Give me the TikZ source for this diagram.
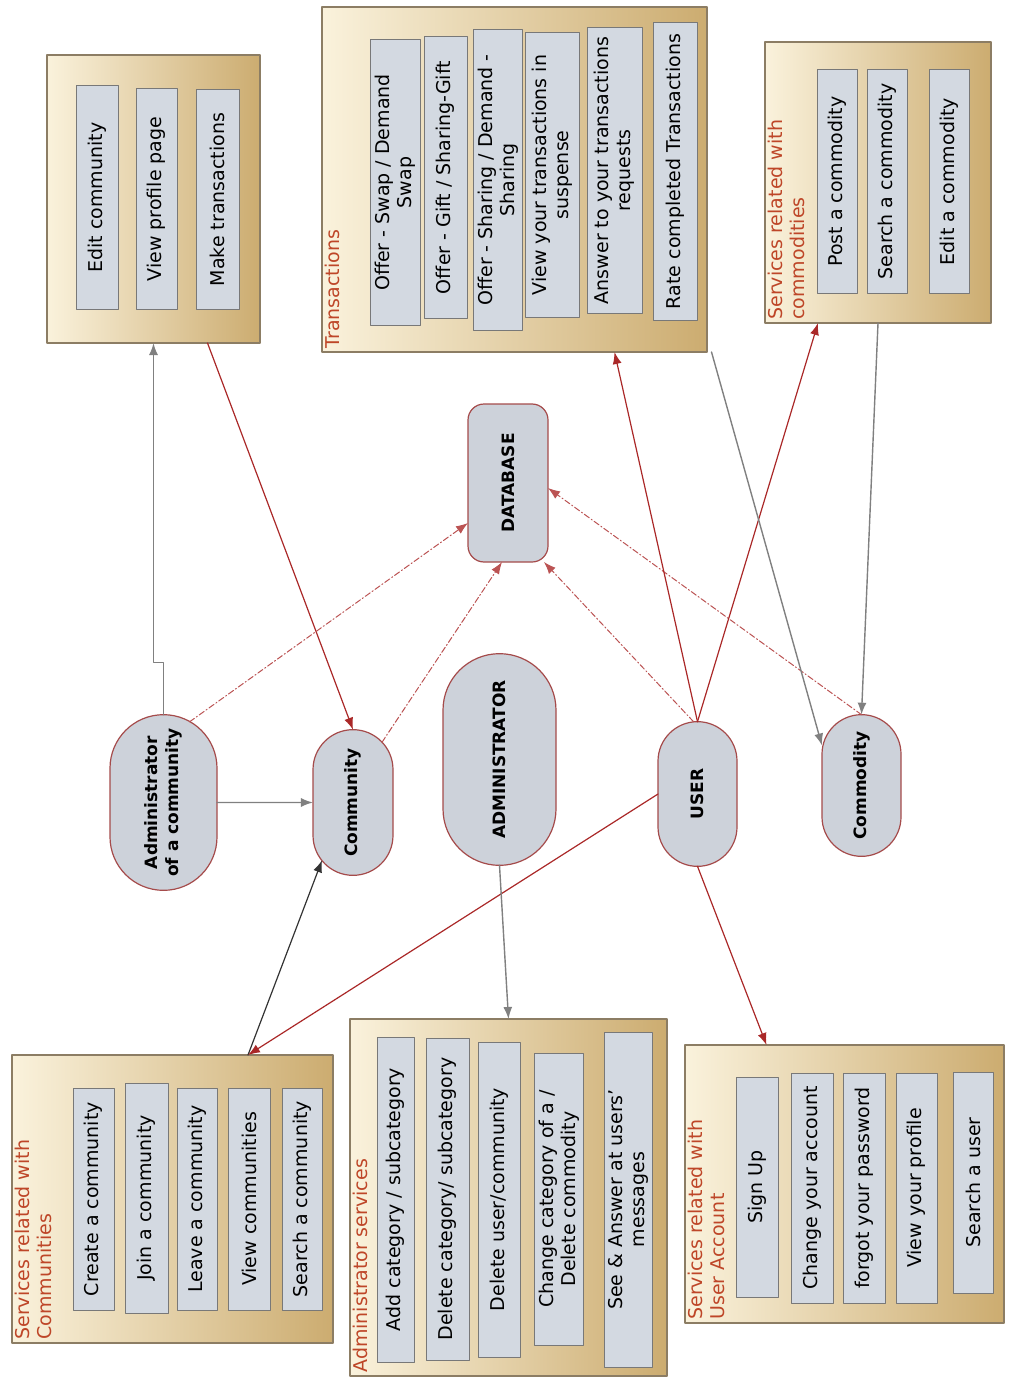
\documentclass[tikz,border=0pt]{standalone}
\usepackage{fontspec}
\setmainfont{DejaVu Sans}
\usetikzlibrary{arrows.meta,shapes.misc}

\begin{document}
\begin{tikzpicture}[
    x=0.5pt, y=-0.5pt,
    line cap=round,
    line join=round,
    every node/.style={font=\fontsize{9.5}{11}\selectfont},
    svcgroup/.style={draw=groupedge, line width=0.6pt, left color=grouplight,
        right color=groupdark, inner sep=0pt, outer sep=0pt},
    svcitem/.style={draw=itemedge, fill=itemfill, line width=0.5pt, rotate=90,
        align=center, inner sep=2pt, outer sep=0pt},
    grouptitle/.style={text=titlered, rotate=90, align=left, inner sep=1.5pt,
        anchor=north west},
    actor/.style={rounded rectangle, draw=actoredge, fill=actorfill,
        line width=0.6pt, rotate=90, align=center, outer sep=0pt,
        font=\fontsize{8.5}{10.5}\selectfont\bfseries},
    store/.style={rectangle, rounded corners=8pt, draw=actoredge, fill=actorfill,
        line width=0.6pt, rotate=90, outer sep=0pt,
        font=\fontsize{8.5}{10.5}\selectfont\bfseries},
    flowgray/.style={draw=linegray, line width=0.7pt,
        -{Latex[length=6pt,width=4.5pt]}},
    flowred/.style={draw=linered, line width=0.6pt,
        -{Latex[length=6pt,width=4.5pt]}},
    flowdb/.style={draw=linered!80, line width=0.5pt,
        dash pattern=on 3pt off 1.2pt on 0.6pt off 1.2pt,
        -{Latex[length=6pt,width=4.5pt]}},
    flowdark/.style={draw=black!80, line width=0.6pt,
        -{Latex[length=6pt,width=4.5pt]}}
]

\definecolor{grouplight}{RGB}{250,242,220}
\definecolor{groupdark}{RGB}{204,172,112}
\definecolor{groupedge}{RGB}{140,125,100}
\definecolor{itemfill}{RGB}{211,217,225}
\definecolor{itemedge}{RGB}{120,120,120}
\definecolor{actorfill}{RGB}{205,210,218}
\definecolor{actoredge}{RGB}{165,75,75}
\definecolor{titlered}{RGB}{190,70,40}
\definecolor{linered}{RGB}{170,40,40}
\definecolor{linegray}{RGB}{128,128,128}

\useasboundingbox (0,0) rectangle (1008,1380);

% -----------------------------
% Top: service groups
% -----------------------------
\node[svcgroup, minimum width=106.5pt, minimum height=144pt] (acsrv) at (153.5,199) {};
\node[svcitem, minimum width=111.5pt, minimum height=21pt] (editcom) at (97,197.5) {Edit community};
\node[svcitem, minimum width=110pt, minimum height=20.5pt] (viewpage) at (156.5,199) {View profile page};
\node[svcitem, minimum width=109.5pt, minimum height=21.5pt] (maketr) at (217.5,199.5) {Make transactions};

\node[svcgroup, minimum width=192.5pt, minimum height=172.5pt] (trans) at (514.5,179.5) {};
\node[grouptitle] (transtitle) at (trans.south west) {Transactions};
\node[svcitem, minimum width=142.5pt, minimum height=25pt] (offswap) at (395,182.5) {Offer - Swap / Demand\\Swap};
\node[svcitem, minimum width=140.5pt, minimum height=21.5pt] (offgift) at (445.5,177.5) {Offer - Gift / Sharing-Gift};
\node[svcitem, minimum width=150pt, minimum height=24pt] (offshare) at (498,180) {Offer - Sharing / Demand -\\Sharing};
\node[svcitem, minimum width=142pt, minimum height=27pt] (viewsusp) at (552,175) {View your transactions in\\suspense};
\node[svcitem, minimum width=142.5pt, minimum height=27.5pt] (answreq) at (614.5,170.5) {Answer to your transactions\\requests};
\node[svcitem, minimum width=148.5pt, minimum height=22pt] (ratetr) at (675,171.5) {Rate completed Transactions};

\node[svcgroup, minimum width=113pt, minimum height=140.5pt] (comdsrv) at (878,182.5) {};
\node[grouptitle] (comdtitle) at (comdsrv.south west) {Services related with\\commodities};
\node[svcitem, minimum width=111.5pt, minimum height=20pt] (postcomd) at (837,181.5) {Post a commodity};
\node[svcitem, minimum width=111.5pt, minimum height=20pt] (searchcomd) at (887,181.5) {Search a commodity};
\node[svcitem, minimum width=111.5pt, minimum height=20pt] (editcomd) at (949,181.5) {Edit a commodity};

% -----------------------------
% Middle: actors and database
% -----------------------------
\node[store, minimum width=79pt, minimum height=40pt] (database) at (508,483) {DATABASE};

\node[actor, minimum width=94.5pt, minimum height=53.5pt] (admcom) at (163.5,802.5) {Administrator\\of a community};
\node[actor, minimum width=79.5pt, minimum height=40pt] (community) at (353,802.5) {Community};
\node[actor, minimum width=112.5pt, minimum height=56.5pt] (admin) at (499.5,759.5) {ADMINISTRATOR};
\node[actor, minimum width=79pt, minimum height=39.5pt] (user) at (697.5,794) {USER};
\node[actor, minimum width=77.5pt, minimum height=39.5pt] (commodity) at (861.5,785.5) {Commodity};

% -----------------------------
% Bottom: service groups
% -----------------------------
\node[svcgroup, minimum width=160.5pt, minimum height=144pt] (comsrv) at (172.5,1199) {};
\node[grouptitle] (comtitle) at (comsrv.south west) {Services related with\\Communities};
\node[svcitem, minimum width=111pt, minimum height=20.5pt] (createcm) at (93.5,1199) {Create a community};
\node[svcitem, minimum width=115pt, minimum height=21.5pt] (joincm) at (146.5,1198) {Join a community};
\node[svcitem, minimum width=111pt, minimum height=20pt] (leavecm) at (197,1199) {Leave a community};
\node[svcitem, minimum width=111pt, minimum height=21pt] (viewcm) at (249,1199) {View communities};
\node[svcitem, minimum width=111pt, minimum height=20pt] (searchcm) at (302,1199) {Search a community};

\node[svcgroup, minimum width=158.5pt, minimum height=178.5pt] (admsrv) at (508.5,1197.5) {};
\node[grouptitle] (admtitle) at (admsrv.south west) {Administrator services};
\node[svcitem, minimum width=162.5pt, minimum height=18.5pt] (addcat) at (395.5,1199.5) {Add category / subcategory};
\node[svcitem, minimum width=161pt, minimum height=21.5pt] (delcat) at (447.5,1199) {Delete category/ subcategory};
\node[svcitem, minimum width=157.5pt, minimum height=21pt] (deluser) at (499,1199.5) {Delete user/community};
\node[svcitem, minimum width=146pt, minimum height=24pt] (chgcat) at (559,1199) {Change category of a /\\Delete commodity};
\node[svcitem, minimum width=167.5pt, minimum height=23.5pt] (seeans) at (628.5,1199.5) {See \& Answer at users'\\messages};

\node[svcgroup, minimum width=159.5pt, minimum height=139pt] (accsrv) at (844.5,1184) {};
\node[grouptitle] (acctitle) at (accsrv.south west) {Services related with\\User Account};
\node[svcitem, minimum width=110pt, minimum height=21pt] (signup) at (757,1187) {Sign Up};
\node[svcitem, minimum width=115pt, minimum height=21pt] (chgacc) at (812,1188) {Change your account};
\node[svcitem, minimum width=115pt, minimum height=21pt] (forgot) at (864,1188) {forgot your password};
\node[svcitem, minimum width=115pt, minimum height=20.5pt] (viewprof) at (916.5,1188) {View your profile};
\node[svcitem, minimum width=110.5pt, minimum height=20pt] (searchusr) at (973,1182.5) {Search a user};

% -----------------------------
% Connectors
% -----------------------------
\draw[flowgray] (admcom.east) -- ++(0,-52) -| (acsrv.south);
\draw[flowred] ([xshift=27pt]acsrv.south) -- (community.east);
\draw[flowgray] (admcom) -- (community);

\draw[flowdb] ([xshift=13pt,yshift=-3.6pt]admcom.east) -- ([yshift=-20pt]database.north);
\draw[flowdb] ([xshift=14.5pt,yshift=-6.3pt]community.east) -- ([xshift=-3pt]database.west);
\draw[flowdb] ([xshift=-2pt]user.east) -- ([xshift=18pt]database.west);
\draw[flowdb] (commodity.east) -- ([yshift=-2.5pt]database.south);

\draw[flowred] (user.east) -- ([xshift=50pt]trans.south);
\draw[flowred] (user.east) -- ([xshift=-30pt]comdsrv.south);
\draw[flowgray] ([xshift=98.5pt]trans.south) -- ([yshift=20pt]commodity.north);
\draw[flowgray] (comdsrv.south) -- (commodity.east);

\draw[flowdark] ([xshift=37.75pt]comsrv.north) -- ([xshift=-15.5pt,yshift=7.5pt]community.west);
\draw[flowred] (user.north) -- ([xshift=37.75pt]comsrv.north);
\draw[flowgray] (admin.west) -- (admsrv.north);
\draw[flowred] (user.west) -- ([xshift=-39pt]accsrv.north);

\end{tikzpicture}
\end{document}
